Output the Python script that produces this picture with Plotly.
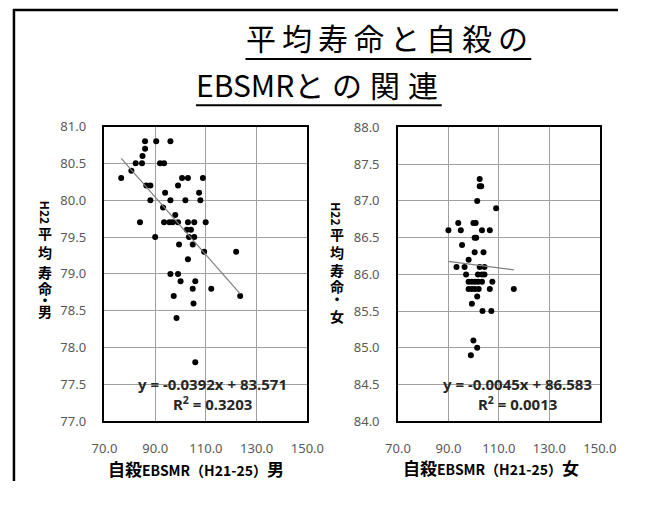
import plotly.graph_objects as go
import numpy as np

# page is 651x506; the browser adds an 8px body margin, so the figure is 16px smaller
OFF = 8
W, H = 651 - 2 * OFF, 506 - 2 * OFF

# ---- data ----
male_x = [86.0, 90.4, 96.0, 86.0, 85.0, 82.3, 84.8, 91.9, 93.5, 80.6,
          76.6, 100.6, 102.9, 108.8, 86.5, 88.1, 99.0, 93.9, 107.3, 88.1,
          96.0, 101.9, 107.8, 93.1, 97.9, 84.0, 93.5, 95.6, 96.9, 99.0,
          102.9, 105.4, 109.9, 102.5, 104.1, 90.0, 103.3, 105.4, 99.4, 104.8,
          109.3, 121.9, 102.9, 96.0, 99.0, 100.0, 105.8, 104.8, 112.1, 97.3,
          123.5, 105.1, 98.4, 105.8]
male_y = [80.8, 80.8, 80.8, 80.7, 80.6, 80.5, 80.5, 80.5, 80.5, 80.4,
          80.3, 80.3, 80.3, 80.3, 80.2, 80.2, 80.2, 80.1, 80.1, 80.0,
          80.0, 80.0, 80.0, 79.9, 79.8, 79.7, 79.7, 79.7, 79.7, 79.7,
          79.7, 79.7, 79.7, 79.6, 79.6, 79.5, 79.5, 79.5, 79.4, 79.4,
          79.3, 79.3, 79.2, 79.0, 79.0, 78.9, 78.9, 78.8, 78.8, 78.7,
          78.7, 78.6, 78.4, 77.8]

female_x = [102.4, 102.4, 103.0, 101.4, 108.9, 93.9, 99.9, 100.8, 90.0, 94.9,
            103.3, 106.4, 100.4, 101.0, 95.4, 100.4, 103.9, 98.0, 93.2, 96.4,
            102.4, 104.3, 97.0, 101.7, 103.3, 104.3, 98.0, 99.3, 100.5, 101.8,
            103.3, 107.4, 98.0, 99.3, 100.5, 102.0, 106.4, 115.9, 101.4, 99.3,
            103.5, 107.0, 99.9, 101.4, 98.9]
female_y = [87.3, 87.2, 87.2, 87.0, 86.9, 86.7, 86.7, 86.7, 86.6, 86.6,
            86.6, 86.6, 86.5, 86.5, 86.4, 86.3, 86.3, 86.2, 86.1, 86.1,
            86.1, 86.1, 86.0, 86.0, 86.0, 86.0, 85.9, 85.9, 85.9, 85.9,
            85.9, 85.9, 85.8, 85.8, 85.8, 85.8, 85.8, 85.8, 85.7, 85.6,
            85.5, 85.5, 85.1, 85.0, 84.9]

male_fit = (-0.0392, 83.571, 0.3203)
female_fit = (-0.0045, 86.583, 0.0013)

x_ticks = [70, 90, 110, 130, 150]
male_y_ticks = [77.0, 77.5, 78.0, 78.5, 79.0, 79.5, 80.0, 80.5, 81.0]
female_y_ticks = [84.0, 84.5, 85.0, 85.5, 86.0, 86.5, 87.0, 87.5, 88.0]

title_line1 = "平均寿命と自殺の"
title_line2_latin = "EBSMR"
title_line2_cjk = "との関連"
x_title_m = "自殺<span style='font-size:14px'>EBSMR（H21-25）</span>男"
x_title_f = "自殺<span style='font-size:14px'>EBSMR（H21-25）</span>女"
y_title_m = ["H22", "平", "均", "寿", "命", "・", "男"]
y_title_f = ["H22", "平", "均", "寿", "命", "・", "女"]


def px(x):
    return (x - OFF) / W


def py(y):
    return 1 - (y - OFF) / H


fig = go.Figure()

TICK_FONT = dict(family="Noto Sans, Open Sans, sans-serif", size=13, color="#595959")
GRID = "#a0a0a0"


def add_panel(xs, ys, fit, xa, ya):
    fig.add_trace(go.Scatter(x=xs, y=ys, mode="markers", xaxis=xa, yaxis=ya,
                             marker=dict(color="black", size=6, symbol="circle"),
                             showlegend=False, hoverinfo="skip"))
    lx = np.array([min(xs), max(xs)])
    fig.add_trace(go.Scatter(x=lx, y=fit[0] * lx + fit[1], mode="lines",
                             xaxis=xa, yaxis=ya,
                             line=dict(color="#808080", width=1.2),
                             showlegend=False, hoverinfo="skip"))


add_panel(male_x, male_y, male_fit, "x", "y")
add_panel(female_x, female_y, female_fit, "x2", "y2")

axis_common = dict(showgrid=True, gridcolor=GRID, gridwidth=1,
                   showline=True, linecolor="black", linewidth=1.5, mirror=True,
                   zeroline=False, tickfont=TICK_FONT, ticks="", ticklabelstandoff=14)

fig.update_layout(
    width=W, height=H, margin=dict(l=0, r=0, t=0, b=0),
    paper_bgcolor="white", plot_bgcolor="white",
    xaxis=dict(domain=[px(104), px(317)], range=[70, 150], tickvals=x_ticks,
               ticktext=[f"{v:.1f}" for v in x_ticks], anchor="y", **axis_common),
    yaxis=dict(domain=[py(436), py(130)], range=[77, 81], tickvals=male_y_ticks,
               ticktext=[f"{v:.1f}" for v in male_y_ticks], anchor="x", **axis_common),
    xaxis2=dict(domain=[px(412), px(624)], range=[70, 150], tickvals=x_ticks,
                ticktext=[f"{v:.1f}" for v in x_ticks], anchor="y2", **axis_common),
    yaxis2=dict(domain=[py(436), py(131)], range=[84, 88], tickvals=female_y_ticks,
                ticktext=[f"{v:.1f}" for v in female_y_ticks], anchor="x2", **axis_common),
)

ann = []
TITLE_FONT = dict(family="Noto Sans CJK JP", size=30, color="black")
ann.append(dict(x=px(404), y=py(37),
                text=f"<span style='letter-spacing:6px'>{title_line1}</span>", font=TITLE_FONT))
ann.append(dict(x=px(331), y=py(86),
                text=f"{title_line2_latin}<span style='letter-spacing:8px'>{title_line2_cjk}</span>",
                font=TITLE_FONT))

LBL_FONT = dict(family="Noto Sans CJK JP", size=17, color="black")
ann.append(dict(x=px(200), y=py(485), text="<b>" + x_title_m + "</b>", font=LBL_FONT))
ann.append(dict(x=px(510), y=py(484), text="<b>" + x_title_f + "</b>", font=LBL_FONT))

ylab_pos_m = [219, 241, 260, 281, 298, 309, 321]
ylab_pos_f = [221, 242, 260, 279, 296, 308, 327]
for cx, t, ys in [(42, y_title_m, ylab_pos_m), (348, y_title_f, ylab_pos_f)]:
    for i, (ch, yy) in enumerate(zip(t, ys)):
        ann.append(dict(x=px(cx), y=py(yy), text="<b>" + ch + "</b>",
                        textangle=90 if i == 0 else 0,
                        font=dict(family="Noto Sans CJK JP", size=12 if i == 0 else 14,
                                  color="black")))

EQ_FONT = dict(family="Noto Sans, sans-serif", size=15, color="#262626")
for cx, fit in [(217, male_fit), (537, female_fit)]:
    ann.append(dict(x=px(cx), y=py(397),
                    text=f"<b>y = {fit[0]:.4f}x + {fit[1]:.3f}</b>", font=EQ_FONT))
    ann.append(dict(x=px(cx), y=py(418),
                    text=f"<b>R<sup>2</sup> = {fit[2]:.4f}</b>", font=EQ_FONT))

for a in ann:
    a.update(xref="paper", yref="paper", showarrow=False, xanchor="center", yanchor="middle")
fig.update_layout(annotations=ann)

shapes = [
    dict(type="line", x0=px(252), x1=px(552), y0=py(60), y1=py(60), line=dict(color="black", width=2)),
    dict(type="line", x0=px(200), x1=px(458), y0=py(108), y1=py(108), line=dict(color="black", width=2)),
    dict(type="line", x0=0, x1=1, y0=1 - 1 / H, y1=1 - 1 / H, line=dict(color="black", width=2.5)),
    dict(type="line", x0=1 / W, x1=1 / W, y0=1, y1=0, line=dict(color="black", width=2.5)),
]
for s in shapes:
    s.update(xref="paper", yref="paper", layer="above")
fig.update_layout(shapes=shapes)

fig.write_html("out.html")
